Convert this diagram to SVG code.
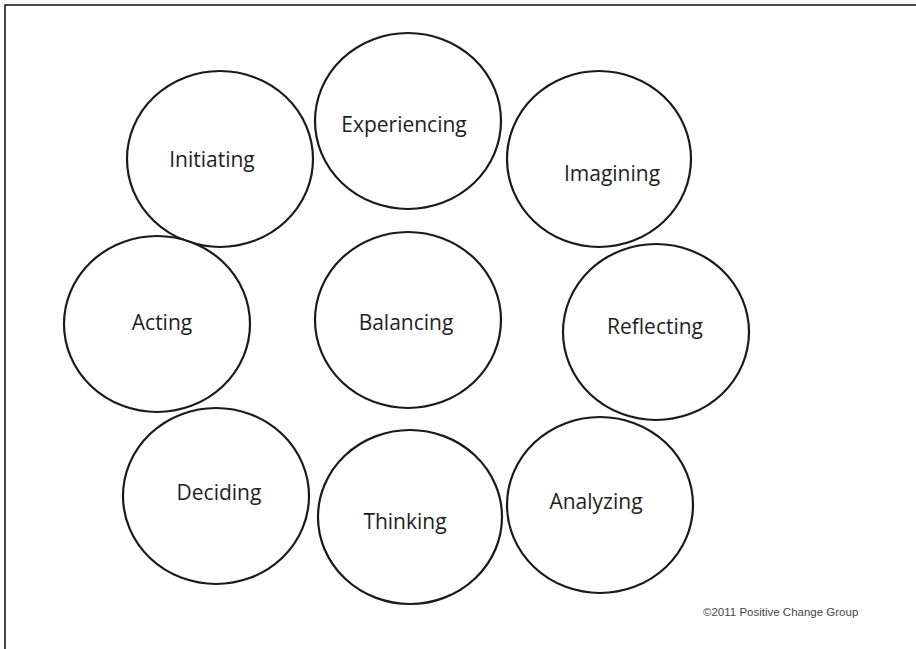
<svg xmlns="http://www.w3.org/2000/svg" width="916" height="649" viewBox="0 0 916 649">
<style>
.n ellipse{fill:#fff;stroke:#1a1a1a;stroke-width:2.2}
.n text{font-family:"Open Sans","Noto Sans",sans-serif;font-size:21px;font-weight:500;fill:#1e1e1e;text-anchor:middle}
.c{font-family:"Liberation Sans",Arial,sans-serif;font-size:11.5px;fill:#444}
</style>
<rect x="0" y="0" width="916" height="649" fill="#fff"/>
<rect x="5" y="5" width="940" height="680" fill="none" stroke="#1a1a1a" stroke-width="1.6"/>
<g id="connectors"></g>
<g id="initiating" class="n"><ellipse cx="220" cy="159" rx="93" ry="88"/><text x="212" y="167">Initiating</text></g>
<g id="experiencing" class="n"><ellipse cx="408" cy="121" rx="93" ry="88"/><text x="404" y="132">Experiencing</text></g>
<g id="imagining" class="n"><ellipse cx="599" cy="159" rx="92" ry="88"/><text x="612" y="181">Imagining</text></g>
<g id="acting" class="n"><ellipse cx="157" cy="324" rx="93" ry="88"/><text x="162" y="330">Acting</text></g>
<g id="balancing" class="n"><ellipse cx="408" cy="320" rx="93" ry="88"/><text x="406" y="330">Balancing</text></g>
<g id="reflecting" class="n"><ellipse cx="656" cy="332" rx="93" ry="88"/><text x="655" y="334">Reflecting</text></g>
<g id="deciding" class="n"><ellipse cx="216" cy="496" rx="93" ry="88"/><text x="219" y="500">Deciding</text></g>
<g id="thinking" class="n"><ellipse cx="410" cy="517" rx="92" ry="87"/><text x="405" y="529">Thinking</text></g>
<g id="analyzing" class="n"><ellipse cx="600" cy="505" rx="93" ry="88"/><text x="596" y="509">Analyzing</text></g>
<text class="c" x="703" y="616">©2011 Positive Change Group</text>
</svg>
